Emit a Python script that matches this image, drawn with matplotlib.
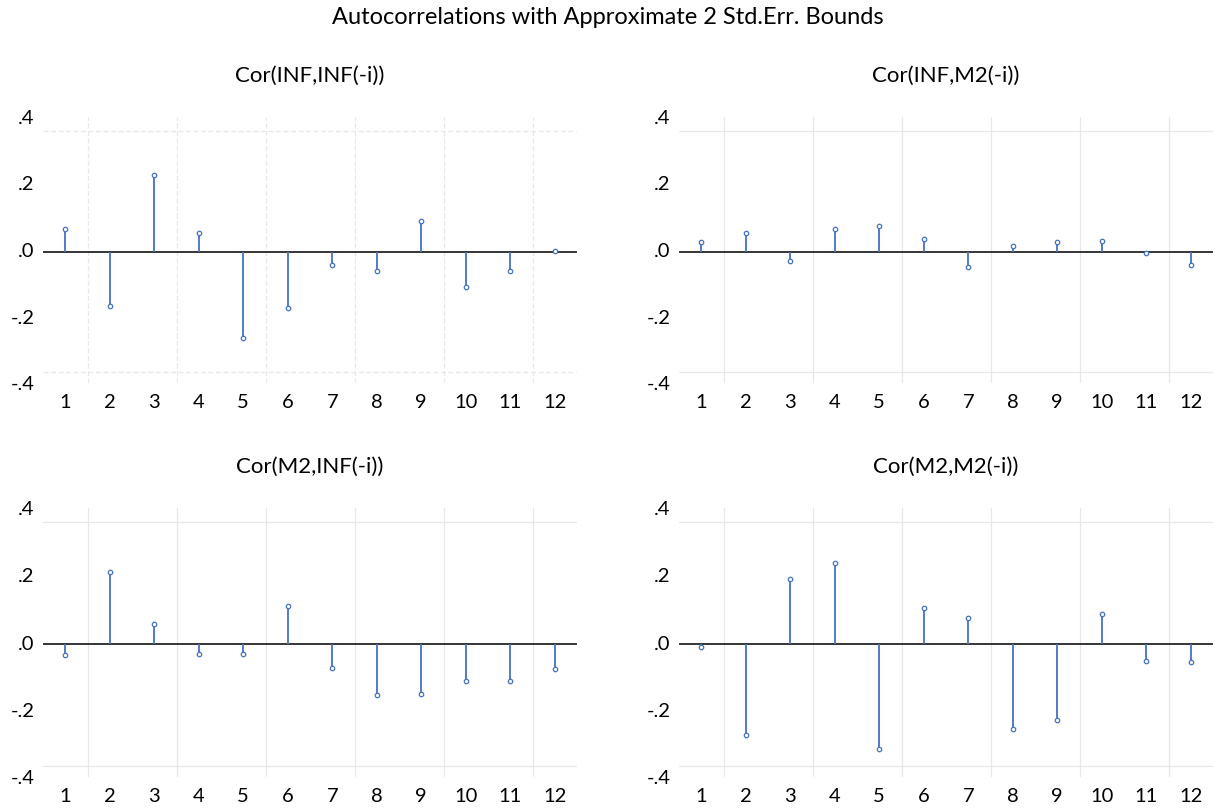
import numpy as np
import matplotlib
matplotlib.use("Agg")
import matplotlib.pyplot as plt

plt.rcParams['font.family'] = ['Lato', 'DejaVu Sans']

lags = list(range(1, 13))

# correlations
inf_inf = [0.074, -0.181, 0.252, 0.061, -0.285, -0.187,
           -0.046, -0.064, 0.100, -0.118, -0.064, 0.002]
inf_m2 = [0.033, 0.062, -0.031, 0.073, 0.086, 0.043,
          -0.052, 0.019, 0.032, 0.036, -0.004, -0.045]
m2_inf = [-0.035, 0.236, 0.067, -0.031, -0.033, 0.124,
          -0.079, -0.168, -0.165, -0.120, -0.122, -0.083]
m2_m2 = [-0.011, -0.298, 0.213, 0.265, -0.342, 0.119,
         0.084, -0.278, -0.250, 0.097, -0.057, -0.060]

titles = ["Cor(INF,INF(-i))", "Cor(INF,M2(-i))",
          "Cor(M2,INF(-i))", "Cor(M2,M2(-i))"]
series = [inf_inf, inf_m2, m2_inf, m2_m2]
ytick_labels = ["-.4", "-.2", ".0", ".2", ".4"]

W, H = 1215, 811
fig = plt.figure(figsize=(W / 100, H / 100), dpi=100)

# pixel boxes (left, top, right, bottom) of each panel
boxes = [(43, 117, 577, 383), (679, 117, 1213, 383),
         (43, 508, 577, 777), (679, 508, 1213, 777)]

blue = "#4472C4"
ylim = 0.435

for i in range(4):
    l, t, r, b = boxes[i]
    ax = fig.add_axes([l / W, 1 - b / H, (r - l) / W, (b - t) / H])
    ax.set_xlim(0.5, 12.5)
    ax.set_ylim(-ylim, ylim)

    ls = (0, (4, 2)) if i == 0 else "-"
    for xg in np.arange(1.5, 12.5, 2):
        ax.axvline(xg, color="#e8e8e8", lw=0.9, ls=ls, zorder=0)
    for yg in (-0.4, 0.4):
        ax.axhline(yg, color="#e8e8e8", lw=0.9, ls=ls, zorder=0)
    ax.axhline(0, color="black", lw=1.1, zorder=1)

    vals = series[i]
    ax.vlines(lags, 0, vals, color=blue, lw=1.3, zorder=2)
    ax.plot(lags, vals, "o", ms=3.2, mfc="white", mec=blue, mew=0.9,
            zorder=3)

    ax.set_xticks(lags)
    ax.set_xticklabels([str(k) for k in lags])
    # labels spread over the full panel height, as in the reference
    ax.set_yticks(np.linspace(-ylim, ylim + 0.01, 5))
    ax.set_yticklabels(ytick_labels)
    ax.tick_params(axis="x", length=0, pad=8, labelsize=14.5)
    ax.tick_params(axis="y", length=0, pad=6, labelsize=14.5)
    for s in ax.spines.values():
        s.set_visible(False)
    ax.set_title(titles[i], fontsize=16, pad=25)

fig.suptitle("Autocorrelations with Approximate 2 Std.Err. Bounds",
             fontsize=17, y=1 - 18 / H, va="center")

fig.savefig("out.png", dpi=100)
